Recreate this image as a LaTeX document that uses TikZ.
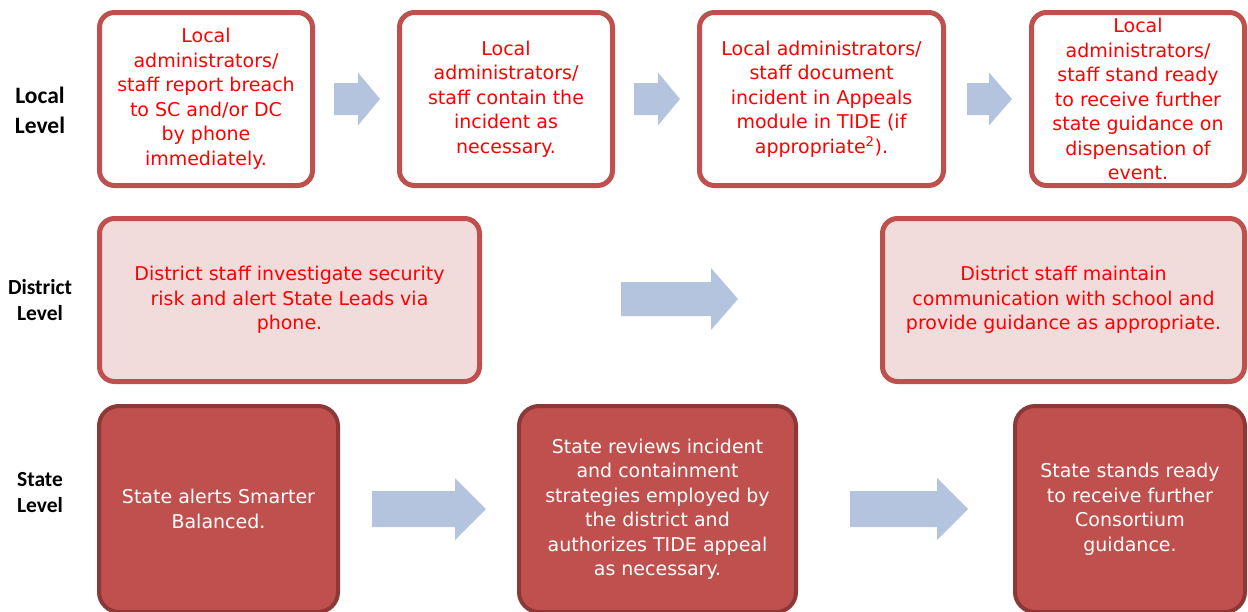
\documentclass[tikz,border=0pt]{standalone}
\usepackage{fontspec}
\setmainfont{DejaVu Sans}
\newfontfamily\lblfont{Carlito}
\definecolor{boxred}{HTML}{C0504D}
\definecolor{boxdark}{HTML}{8C3836}
\definecolor{distfill}{HTML}{F2DCDB}
\definecolor{arrowblue}{HTML}{B4C4DE}
\definecolor{txtred}{HTML}{FF0000}
\tikzset{
  localbox/.style={draw=boxred, line width=5pt, fill=white, rounded corners=15pt, align=center, text=txtred, font=\fontsize{19}{24.5}\selectfont, inner sep=0pt},
  distbox/.style={draw=boxred, line width=5pt, fill=distfill, rounded corners=15pt, align=center, text=txtred, font=\fontsize{19}{24.5}\selectfont, inner sep=0pt},
  statebox/.style={draw=boxdark, line width=4pt, fill=boxred, rounded corners=20pt, align=center, text=white, font=\fontsize{19}{24.5}\selectfont, inner sep=0pt},
  lbl/.style={align=center, font=\lblfont\bfseries\fontsize{23.5}{30}\selectfont, inner sep=0pt},
  lbls/.style={align=center, font=\lblfont\bfseries\fontsize{21.5}{26}\selectfont, inner sep=0pt},
  arrowfill/.style={fill=arrowblue, draw=none}
}
% name, style, x1, y1, x2, y2, linewidth, text
\newcommand\mybox[8]{%
  \node[#2, minimum width={#5-#3-#7}, minimum height={#6-#4-#7}] (#1) at ({(#3+#5)/2},{(#4+#6)/2}) {#8};}
% name, x1, xhead, x2, yc, shaft half, head half
\newcommand\blockarrow[7]{%
  \coordinate (#1) at ({(#2+#4)/2},#5);
  \fill[arrowfill] (#2,#5-#6) -- (#3,#5-#6) -- (#3,#5-#7) -- (#4,#5) -- (#3,#5+#7) -- (#3,#5+#6) -- (#2,#5+#6) -- cycle;}
\begin{document}
\begin{tikzpicture}[x=1pt,y=-1pt]
\useasboundingbox (0,0) rectangle (1248,611);
% row labels
\node[lbl] (labL) at (40,110) {Local\\Level};
\node[lbls] (labD) at (40,300) {District\\Level};
\node[lbls] (labS) at (40,493) {State\\Level};
% local level
\mybox{l1}{localbox}{97}{10}{315}{188}{5}{Local\\administrators/\\staff report breach\\to SC and/or DC\\by phone\\immediately.}
\mybox{l2}{localbox}{397}{10}{615}{188}{5}{Local\\administrators/\\staff contain the\\incident as\\necessary.}
\mybox{l3}{localbox}{697}{10}{946}{188}{5}{Local administrators/\\staff document\\incident in Appeals\\module in TIDE (if\\appropriate\textsuperscript{2}).}
\mybox{l4}{localbox}{1029}{10}{1247}{188}{5}{Local\\administrators/\\staff stand ready\\to receive further\\state guidance on\\dispensation of\\event.}
\blockarrow{la1}{334}{358}{380}{99}{16}{26.5}
\blockarrow{la2}{634}{658}{680}{99}{16}{26.5}
\blockarrow{la3}{967}{989}{1012}{99}{16}{26.5}
% district level
\mybox{d1}{distbox}{97}{216}{482}{384}{5}{District staff investigate security\\risk and alert State Leads via\\phone.}
\mybox{d2}{distbox}{880}{216}{1247}{384}{5}{District staff maintain\\communication with school and\\provide guidance as appropriate.}
\blockarrow{da1}{621}{711}{738}{299}{17}{31}
% state level
\mybox{s1}{statebox}{97}{404}{340}{614}{4}{State alerts Smarter\\Balanced.}
\mybox{s2}{statebox}{517}{404}{798}{614}{4}{State reviews incident\\and containment\\strategies employed by\\the district and\\authorizes TIDE appeal\\as necessary.}
\mybox{s3}{statebox}{1013}{404}{1247}{614}{4}{State stands ready\\to receive further\\Consortium\\guidance.}
\blockarrow{sa1}{372}{455}{486}{509}{18}{31}
\blockarrow{sa2}{850}{937}{968}{509}{18}{31}
\end{tikzpicture}
\end{document}
